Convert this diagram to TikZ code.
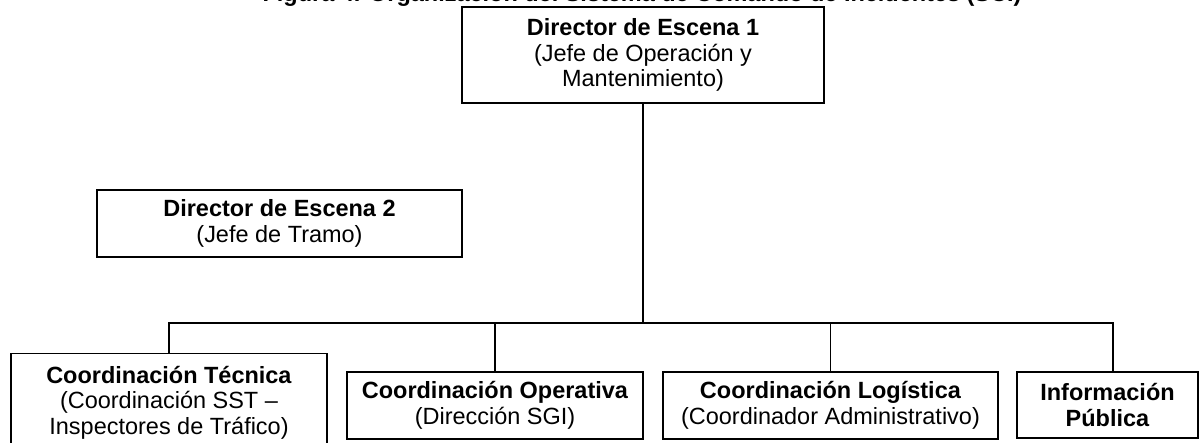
\documentclass[tikz,border=0pt]{standalone}
\usepackage{fontspec}
\setmainfont{Liberation Sans}
\tikzset{
  orgbox/.style={draw, line width=1pt, inner sep=0pt, align=center,
    font=\fontsize{16.7}{18.2}\selectfont},
  link/.style={line width=0.9pt}
}
\begin{document}
\begin{tikzpicture}[x=0.25mm, y=-0.25mm]
        \useasboundingbox (0,0) rectangle (1199,443);
        \node[anchor=base, font=\fontsize{16.7}{18}\selectfont\bfseries] (title) at (642,2)
          {Figura 4. Organización del Sistema de Comando de Incidentes (SCI)}; % cut off at the top
        \node[orgbox, minimum width=90.5mm, minimum height=24mm] (dir1) at (643,55)
          {\textbf{Director de Escena 1}\\(Jefe de Operación y\\Mantenimiento)};
        \node[orgbox, minimum width=91.25mm, minimum height=16.75mm] (dir2) at (279.5,223.5)
          {\textbf{Director de Escena 2}\\(Jefe de Tramo)};
        \node[orgbox, minimum width=79mm, minimum height=24.5mm] (tech) at (169,402.5)
          {\textbf{Coordinación Técnica}\\(Coordinación SST –\\Inspectores de Tráfico)};
        \node[orgbox, minimum width=74mm, minimum height=16.75mm] (oper) at (495,405.5)
          {\textbf{Coordinación Operativa}\\(Dirección SGI)};
        \node[orgbox, minimum width=83.75mm, minimum height=16.75mm] (logi) at (830.5,405.5)
          {\textbf{Coordinación Logística}\\(Coordinador Administrativo)};
        \node[orgbox, minimum width=45.25mm, minimum height=16.5mm] (info) at (1107.5,405)
          {\textbf{Información}\\\textbf{Pública}};
        \coordinate (bus) at (643,323); % junction of the tree
        \draw[link] (dir1.south) -- (bus);
        \foreach \n in {tech,oper,logi} \draw[link] (bus) -| (\n.north);
        \draw[link] (bus) -| ([xshift=1.375mm]info.north);
    \end{tikzpicture}
\end{document}
